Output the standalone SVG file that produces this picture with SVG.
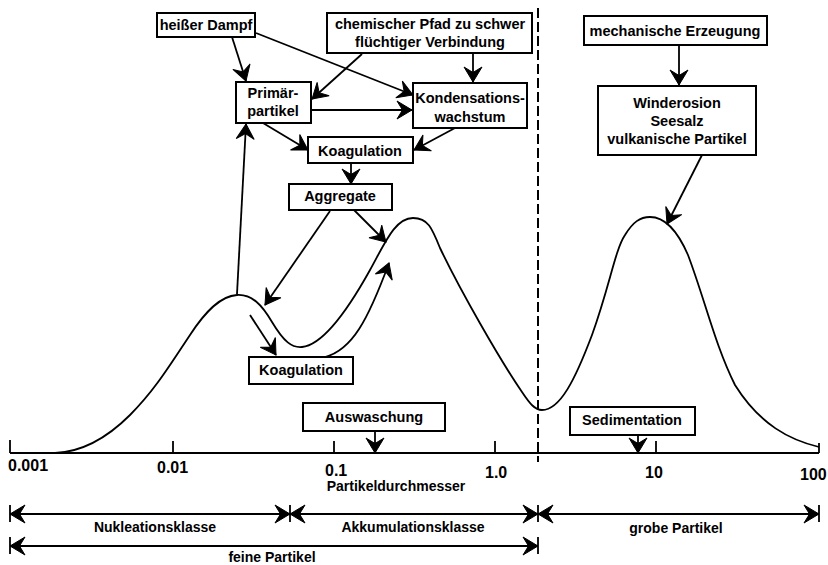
<svg xmlns="http://www.w3.org/2000/svg" width="828" height="565" viewBox="0 0 828 565">
<style>
.box{fill:#fff;stroke:#000;stroke-width:2}
.t{font-family:"Liberation Sans",Arial,sans-serif;font-weight:bold;font-size:14.5px;fill:#000;text-anchor:middle}
.tick{font-family:"Liberation Sans",Arial,sans-serif;font-weight:bold;font-size:16px;fill:#000}
.ln{fill:none;stroke:#000;stroke-width:1.8}
.ar{fill:none;stroke:#000;stroke-width:1.8;marker-end:url(#ah)}
.dbl{fill:none;stroke:#000;stroke-width:1.8;marker-start:url(#ah);marker-end:url(#ah)}
</style>
<defs>
<marker id="ah" markerUnits="userSpaceOnUse" markerWidth="24" markerHeight="24" viewBox="0 0 24 24" refX="20" refY="12" orient="auto-start-reverse">
<path d="M20,12 L5,3 L10.5,12 L5,21 Z" fill="#000" stroke="#000" stroke-width="1" stroke-linejoin="miter"/>
</marker>
</defs>
<rect width="828" height="565" fill="#fff"/>

<g id="axis">
<path class="ln" d="M10,453 H819 M10,440 V453 M173,441 V453 M334,441 V453 M495,441 V453 M656,441 V453 M819,443 V453"/>
<text class="tick" x="8" y="471">0.001</text>
<text class="tick" x="157" y="473">0.01</text>
<text class="tick" x="325" y="476">0.1</text>
<text class="tick" x="485" y="478">1.0</text>
<text class="tick" x="645" y="478">10</text>
<text class="tick" x="800" y="480">100</text>
<text class="t" x="396" y="491" style="font-size:14px">Partikeldurchmesser</text>
</g>

<g id="divider">
<path d="M538,8 V462" fill="none" stroke="#000" stroke-width="2" stroke-dasharray="10,4"/>
</g>

<g id="curve">
<path class="ln" d="M55,453 C80,452 105,440 130,415 C155,390 170,365 190,335 C205,312 220,296 237,295 C252,294 262,305 272,322 C284,342 292,348 302,347 C322,345 345,315 370,270 C385,243 395,218 413,218 C428,218 432,228 440,248 C460,290 500,360 522,392 C530,404 535,410 542,410 C560,410 575,380 592,335 C610,285 615,250 625,235 C633,222 640,217 650,217 C665,217 678,232 688,255 C705,300 715,345 735,385 C760,425 790,440 819,447"/>
</g>

<g id="n-heisser-dampf">
<rect class="box" x="157" y="13" width="98" height="24"/>
<text class="t" x="206" y="30">heißer Dampf</text>
</g>
<g id="n-chemischer-pfad">
<rect class="box" x="327" y="13" width="205" height="40"/>
<text class="t" x="430" y="29">chemischer Pfad zu schwer</text>
<text class="t" x="430" y="47">flüchtiger Verbindung</text>
</g>
<g id="n-primaerpartikel">
<rect class="box" x="236" y="82" width="75" height="41"/>
<text class="t" x="273" y="98">Primär-</text>
<text class="t" x="273" y="116">partikel</text>
</g>
<g id="n-kondensationswachstum">
<rect class="box" x="413" y="83" width="114" height="45"/>
<text class="t" x="470" y="103">Kondensations-</text>
<text class="t" x="470" y="122">wachstum</text>
</g>
<g id="n-koagulation-oben">
<rect class="box" x="308" y="137" width="105" height="26"/>
<text class="t" x="360" y="156">Koagulation</text>
</g>
<g id="n-aggregate">
<rect class="box" x="289" y="184" width="103" height="26"/>
<text class="t" x="340" y="201">Aggregate</text>
</g>
<g id="n-koagulation-unten">
<rect class="box" x="249" y="357" width="104" height="27"/>
<text class="t" x="301" y="375">Koagulation</text>
</g>
<g id="n-auswaschung">
<rect class="box" x="303" y="403" width="142" height="28"/>
<text class="t" x="374" y="422">Auswaschung</text>
</g>
<g id="n-sedimentation">
<rect class="box" x="570" y="407" width="125" height="28"/>
<text class="t" x="632" y="425">Sedimentation</text>
</g>
<g id="n-mechanische-erzeugung">
<rect class="box" x="584" y="16" width="183" height="29"/>
<text class="t" x="675" y="36">mechanische Erzeugung</text>
</g>
<g id="n-winderosion">
<rect class="box" x="598" y="86" width="158" height="69"/>
<text class="t" x="677" y="108">Winderosion</text>
<text class="t" x="677" y="126">Seesalz</text>
<text class="t" x="677" y="144">vulkanische Partikel</text>
</g>

<g id="ranges">
<path class="ln" d="M10,505 V522 M290,505 V522 M538,505 V522 M819,505 V522 M10,537 V554 M538,537 V554"/>
<path class="dbl" d="M10,514 H290"/>
<path class="dbl" d="M290,514 H538"/>
<path class="dbl" d="M538,514 H819"/>
<path class="dbl" d="M10,546 H538"/>
<text class="t" x="155" y="532" style="font-size:14px">Nukleationsklasse</text>
<text class="t" x="413" y="532" style="font-size:14px">Akkumulationsklasse</text>
<text class="t" x="676" y="533" style="font-size:14px">grobe Partikel</text>
<text class="t" x="272" y="562" style="font-size:14px">feine Partikel</text>
</g>

<g id="connectors">
<path class="ar" d="M232,37 L246,81"/>
<path class="ar" d="M256,33 L413,95"/>
<path class="ar" d="M362,54 L312,99"/>
<path class="ar" d="M473,53 V82"/>
<path class="ar" d="M311,110 H412"/>
<path class="ar" d="M263,123 L308,150"/>
<path class="ar" d="M455,128 L414,150"/>
<path class="ar" d="M351,163 V184"/>
<path class="ar" d="M330,211 L265,305"/>
<path class="ar" d="M354,210 L386,242"/>
<path class="ar" d="M250,315 L276,355"/>
<path class="ar" d="M325,357 C352,350 368,320 389,263"/>
<path class="ar" d="M237,294 L246,124"/>
<path class="ar" d="M679,45 V85"/>
<path class="ar" d="M702,155 L667,224"/>
<path class="ar" d="M375,431 V453"/>
<path class="ar" d="M638,435 V453"/>
</g>
</svg>
